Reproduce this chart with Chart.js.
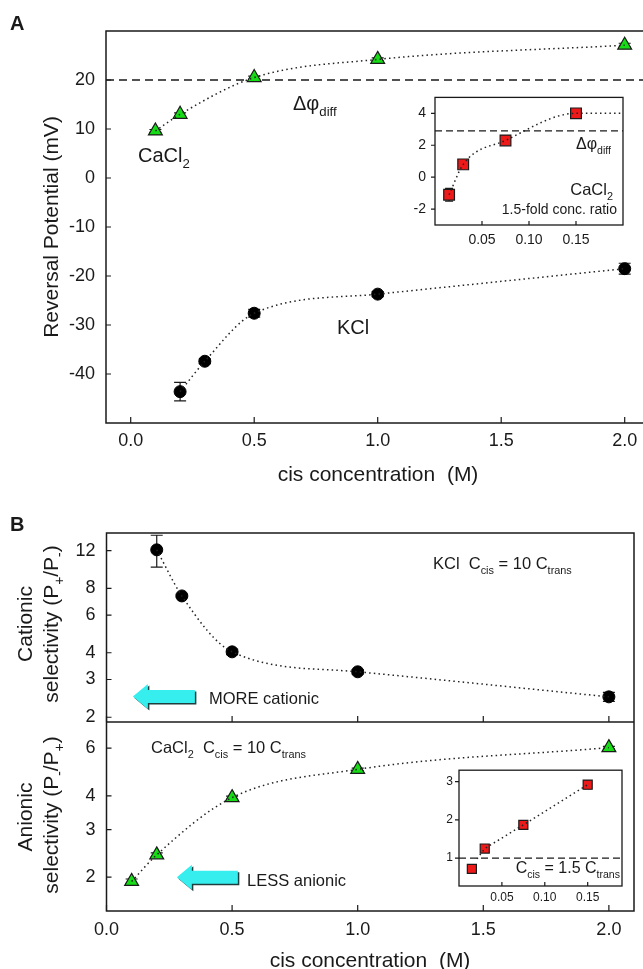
<!DOCTYPE html>
<html>
<head>
<meta charset="utf-8">
<script src="https://cdn.jsdelivr.net/npm/chart.js@4.4.1/dist/chart.umd.min.js"></script>
<style>
  html, body { margin: 0; padding: 0; background: #fff; overflow: hidden; }
  #page { position: relative; width: 643px; height: 969px; overflow: hidden; background: #fff; }
  #page canvas { position: absolute; }
</style>
</head>
<body>
<div id="page">
  <canvas id="cA" width="660" height="500" style="left:0;top:0"></canvas>
  <canvas id="cAin" width="240" height="175" style="left:395px;top:80px"></canvas>
  <canvas id="cB" width="660" height="469" style="left:0;top:500px"></canvas>
  <canvas id="cBin" width="210" height="150" style="left:425px;top:757px"></canvas>
</div>
<script>
// ---------- Panel A: reversal potential vs cis concentration ----------
const caclConcA = [0.1, 0.2, 0.5, 1.0, 2.0];
const caclErev = [9.6, 13.0, 20.5, 24.2, 27.1];
const caclErevErr = [0.3, 0.3, 0.3, 0.3, 0.4];
const kclConcA = [0.2, 0.3, 0.5, 1.0, 2.0];
const kclErev = [-43.6, -37.4, -27.6, -23.7, -18.5];
const kclErevErr = [1.9, 0.5, 0.8, 0.5, 1.1];
const diffPotentialA = 20;
const concTicks = [0, 0.5, 1.0, 1.5, 2.0];
const erevTicks = [-40, -30, -20, -10, 0, 10, 20];

// Panel A inset: CaCl2, 1.5-fold concentration ratio
const insetConcA = [0.015, 0.03, 0.075, 0.15];
const insetErev = [-1.1, 0.8, 2.3, 4.0];
const insetErevErr = [0.4, 0.15, 0.15, 0.15];
const insetFitConcA = [0.015, 0.03, 0.075, 0.15, 0.2];
const insetFitErev = [-1.1, 0.8, 2.3, 4.0, 4.0];
const diffPotentialInset = 2.9;
const insetConcTicks = [0.05, 0.10, 0.15];
const insetErevTicks = [-2, 0, 2, 4];

// ---------- Panel B: permeability ratios ----------
const kclConcB = [0.2, 0.3, 0.5, 1.0, 2.0];
const kclCationic = [12.1, 7.37, 4.04, 3.26, 2.49];
const kclCationicErr = [2.05, 0.12, 0.12, 0.08, 0.12];
const caclConcB = [0.1, 0.2, 0.5, 1.0, 2.0];
const caclAnionic = [1.93, 2.42, 3.94, 5.01, 6.03];
const caclAnionicErr = [0.04, 0.04, 0.05, 0.05, 0.06];
const cationicTicks = [2, 3, 4, 6, 8, 12];
const anionicTicks = [2, 3, 4, 6];

// Panel B inset: C_cis = 1.5 C_trans
const insetConcB = [0.015, 0.03, 0.075, 0.15];
const insetAnionic = [0.72, 1.25, 1.87, 2.92];
const insetAnionicErr = [0.05, 0.05, 0.05, 0.1];
const insetFitConcB = [0.021, 0.03, 0.075, 0.15];
const insetFitAnionic = [0.98, 1.25, 1.87, 2.92];
const insetNoSelectivity = 1;
const insetAnionicTicks = [1, 2, 3];

// ---------- styling ----------
const FONT = '"Liberation Sans", Arial, Helvetica, sans-serif';
const INK = '#1a1a1a';
const GREEN = '#16dc16';
const RED = '#ee1a1a';
const CYAN = '#36eeee';
Chart.defaults.font.family = FONT;
Chart.defaults.color = INK;

function pts(xs, ys) { return xs.map((x, i) => ({ x: x, y: ys[i] })); }
function setFont(ctx, size, bold) { ctx.font = (bold ? 'bold ' : '') + size + 'px ' + FONT; }

// "CaCl_{2}" -> [{t:'CaCl'}, {t:'2', sub:true}]
function parseRich(s) {
  const out = [];
  const re = /_\{([^}]*)\}/g;
  let last = 0, m;
  while ((m = re.exec(s)) !== null) {
    if (m.index > last) out.push({ t: s.slice(last, m.index) });
    out.push({ t: m[1], sub: true });
    last = re.lastIndex;
  }
  if (last < s.length) out.push({ t: s.slice(last) });
  return out;
}

// y is the vertical centre of the capitals
function drawRich(ctx, text, x, y, o) {
  const parts = parseRich(text);
  const size = o.size, subScale = 0.66;
  ctx.save();
  if (o.rotate) { ctx.translate(x, y); ctx.rotate(-Math.PI / 2); x = 0; y = 0; }
  const widths = parts.map(p => { setFont(ctx, p.sub ? size * subScale : size, o.bold); return ctx.measureText(p.t).width; });
  const total = widths.reduce((a, b) => a + b, 0);
  let cx = o.align === 'center' ? x - total / 2 : (o.align === 'right' ? x - total : x);
  const base = y + size * 0.36;
  ctx.fillStyle = INK; ctx.textAlign = 'left'; ctx.textBaseline = 'alphabetic';
  parts.forEach((p, i) => {
    setFont(ctx, p.sub ? size * subScale : size, o.bold);
    ctx.fillText(p.t, cx, base + (p.sub ? size * 0.3 : 0));
    cx += widths[i];
  });
  ctx.restore();
}

function drawLabels(chart, labels, offX, offY) {
  labels.forEach(l => drawRich(chart.ctx, l.text, l.x - offX, l.y - offY, l));
}

function frame(ctx, a, lw) {
  ctx.save(); ctx.strokeStyle = INK; ctx.lineWidth = lw;
  ctx.strokeRect(a.left, a.top, a.right - a.left, a.bottom - a.top);
  ctx.restore();
}

function hLine(ctx, x0, x1, y, dash, lw) {
  ctx.save(); ctx.strokeStyle = INK; ctx.lineWidth = lw; ctx.setLineDash(dash);
  ctx.beginPath(); ctx.moveTo(x0, y); ctx.lineTo(x1, y); ctx.stroke(); ctx.restore();
}

// tick marks on x: from edgeY in direction dir (-1 up, +1 down)
function xMarks(ctx, scale, edgeY, len, dir) {
  ctx.save(); ctx.strokeStyle = INK; ctx.lineWidth = 1.2; ctx.beginPath();
  scale.ticks.forEach(t => { const p = scale.getPixelForValue(t.value); ctx.moveTo(p, edgeY); ctx.lineTo(p, edgeY + dir * len); });
  ctx.stroke(); ctx.restore();
}
function yMarks(ctx, scale, edgeX, len, dir) {
  ctx.save(); ctx.strokeStyle = INK; ctx.lineWidth = 1.2; ctx.beginPath();
  scale.ticks.forEach(t => { const p = scale.getPixelForValue(t.value); ctx.moveTo(edgeX, p); ctx.lineTo(edgeX + dir * len, p); });
  ctx.stroke(); ctx.restore();
}

// left-pointing block arrow with a dark edge
function arrowLeft(ctx, tipX, cy, len, headLen, headHalf, shaftHalf) {
  const path = (dx, dy) => {
    ctx.beginPath();
    ctx.moveTo(tipX + dx, cy + dy);
    ctx.lineTo(tipX + headLen + dx, cy - headHalf + dy);
    ctx.lineTo(tipX + headLen + dx, cy - shaftHalf + dy);
    ctx.lineTo(tipX + len + dx, cy - shaftHalf + dy);
    ctx.lineTo(tipX + len + dx, cy + shaftHalf + dy);
    ctx.lineTo(tipX + headLen + dx, cy + shaftHalf + dy);
    ctx.lineTo(tipX + headLen + dx, cy + headHalf + dy);
    ctx.closePath();
  };
  ctx.save();
  path(1.5, 1.5); ctx.fillStyle = '#1f3f3f'; ctx.fill();
  path(0, 0); ctx.fillStyle = CYAN; ctx.fill();
  ctx.restore();
}

// vertical error bars, drawn just before their markers
const errorBars = {
  id: 'errorBars',
  beforeDatasetDraw(chart, args) {
    const ds = chart.data.datasets[args.index];
    if (!ds.errorBars) return;
    const ys = chart.scales[args.meta.yAxisID];
    const ctx = chart.ctx;
    ctx.save(); ctx.strokeStyle = INK; ctx.lineWidth = 1.2; ctx.beginPath();
    args.meta.data.forEach((pt, i) => {
      const v = ds.data[i].y, e = ds.errorBars[i];
      if (!e) return;
      const top = ys.getPixelForValue(v + e), bot = ys.getPixelForValue(v - e);
      const cap = ds.capHalf || 6;
      ctx.moveTo(pt.x, top); ctx.lineTo(pt.x, bot);
      ctx.moveTo(pt.x - cap, top); ctx.lineTo(pt.x + cap, top);
      ctx.moveTo(pt.x - cap, bot); ctx.lineTo(pt.x + cap, bot);
    });
    ctx.stroke(); ctx.restore();
  }
};
Chart.register(errorBars);

function fitLine(xs, ys, extra) {
  return Object.assign({
    data: pts(xs, ys), showLine: true, borderColor: '#222', borderWidth: 1.5,
    borderDash: [1.5, 3.2], pointRadius: 0, cubicInterpolationMode: 'monotone', fill: false
  }, extra || {});
}

function fixedTicks(values) { return s => { s.ticks = values.map(v => ({ value: v })); }; }

const common = {
  responsive: false, animation: false, events: [],
  plugins: { legend: { display: false }, tooltip: { enabled: false } }
};
const noGrid = { display: false, drawTicks: false };

// ---------- Panel A ----------
const labelsA = [
  { text: 'A', x: 10, y: 23, size: 20, bold: true },
  { text: 'Reversal Potential (mV)', x: 50, y: 227, size: 21, rotate: true, align: 'center' },
  { text: 'cis concentration  (M)', x: 378, y: 473, size: 21, align: 'center' },
  { text: 'CaCl_{2}', x: 138, y: 155, size: 20 },
  { text: 'Δφ_{diff}', x: 293, y: 103, size: 20 },
  { text: 'KCl', x: 337, y: 327, size: 20 }
];

new Chart(document.getElementById('cA'), {
  type: 'scatter',
  data: {
    datasets: [
      fitLine(caclConcA, caclErev),
      fitLine(kclConcA, kclErev),
      { label: 'CaCl2', data: pts(caclConcA, caclErev), pointStyle: 'triangle', pointRadius: 8,
        backgroundColor: GREEN, borderColor: INK, borderWidth: 1.2, errorBars: caclErevErr },
      { label: 'KCl', data: pts(kclConcA, kclErev), pointStyle: 'circle', pointRadius: 6,
        backgroundColor: '#000', borderColor: '#000', borderWidth: 1, errorBars: kclErevErr }
    ]
  },
  options: Object.assign({}, common, {
    layout: { padding: { top: 31, right: 10.6, left: 0, bottom: 0 } },
    scales: {
      x: { type: 'linear', min: -0.1, max: 2.1, afterBuildTicks: fixedTicks(concTicks),
           afterFit: s => { s.height = 77; }, grid: noGrid, border: { display: false },
           ticks: { font: { size: 18 }, color: INK, padding: 7, maxRotation: 0, autoSkip: false,
                    callback: v => Number(v).toFixed(1) } },
      y: { type: 'linear', min: -50, max: 30, afterBuildTicks: fixedTicks(erevTicks),
           afterFit: s => { s.width = 106; }, grid: noGrid, border: { display: false },
           ticks: { font: { size: 18 }, color: INK, padding: 11, autoSkip: false, callback: v => String(v) } }
    }
  }),
  plugins: [{
    id: 'panelA',
    beforeDatasetsDraw(chart) {
      const a = chart.chartArea;
      hLine(chart.ctx, a.left, a.right, chart.scales.y.getPixelForValue(diffPotentialA), [8, 5], 1.5);
    },
    afterDatasetsDraw(chart) {
      const a = chart.chartArea, ctx = chart.ctx;
      frame(ctx, a, 1.5);
      xMarks(ctx, chart.scales.x, a.bottom, 6, -1);
      yMarks(ctx, chart.scales.y, a.left, 5, 1);
    },
    afterDraw(chart) { drawLabels(chart, labelsA, 0, 0); }
  }]
});

// ---------- Panel A inset ----------
const labelsAin = [
  { text: 'Δφ_{diff}', x: 611, y: 143, size: 16, align: 'right' },
  { text: 'CaCl_{2}', x: 613, y: 189, size: 16.5, align: 'right' },
  { text: '1.5-fold conc. ratio', x: 617, y: 209, size: 14, align: 'right' }
];

new Chart(document.getElementById('cAin'), {
  type: 'scatter',
  data: {
    datasets: [
      fitLine(insetFitConcA, insetFitErev),
      { label: 'CaCl2 1.5-fold', data: pts(insetConcA, insetErev), pointStyle: 'rect', pointRadius: 7.6,
        backgroundColor: RED, borderColor: INK, borderWidth: 1.2, errorBars: insetErevErr, capHalf: 4 }
    ]
  },
  options: Object.assign({}, common, {
    layout: { padding: { top: 10, right: 12, left: 0, bottom: 0 } },
    scales: {
      x: { type: 'linear', min: 0, max: 0.2, afterBuildTicks: fixedTicks(insetConcTicks),
           afterFit: s => { s.height = 30; }, grid: noGrid, border: { display: false },
           ticks: { font: { size: 14 }, color: INK, padding: 6.6, maxRotation: 0, autoSkip: false,
                    callback: v => Number(v).toFixed(2) } },
      y: { type: 'linear', min: -3, max: 5, afterBuildTicks: fixedTicks(insetErevTicks),
           afterFit: s => { s.width = 40; }, grid: noGrid, border: { display: false },
           ticks: { font: { size: 14 }, color: INK, padding: 9, autoSkip: false, callback: v => String(v) } }
    }
  }),
  plugins: [{
    id: 'insetA',
    beforeDatasetsDraw(chart) {
      const a = chart.chartArea, ctx = chart.ctx;
      ctx.save(); ctx.fillStyle = '#fff'; ctx.fillRect(a.left, a.top, a.right - a.left, a.bottom - a.top); ctx.restore();
      hLine(ctx, a.left, a.right, chart.scales.y.getPixelForValue(diffPotentialInset), [7, 4], 1.3);
    },
    afterDatasetsDraw(chart) {
      const a = chart.chartArea, ctx = chart.ctx;
      frame(ctx, a, 1.3);
      xMarks(ctx, chart.scales.x, a.bottom, 4, -1);
      yMarks(ctx, chart.scales.y, a.left, 4, -1);
    },
    afterDraw(chart) { drawLabels(chart, labelsAin, 395, 80); }
  }]
});

// ---------- Panel B (stacked anionic / cationic axes) ----------
const labelsB = [
  { text: 'B', x: 10, y: 524, size: 20, bold: true },
  { text: 'Cationic', x: 24, y: 624, size: 21, rotate: true, align: 'center' },
  { text: 'selectivity (P_{+}/P_{-})', x: 50, y: 624, size: 21, rotate: true, align: 'center' },
  { text: 'Anionic', x: 24, y: 817, size: 21, rotate: true, align: 'center' },
  { text: 'selectivity (P_{-}/P_{+})', x: 50, y: 815, size: 21, rotate: true, align: 'center' },
  { text: 'cis concentration  (M)', x: 370, y: 959, size: 21, align: 'center' },
  { text: 'KCl  C_{cis} = 10 C_{trans}', x: 433, y: 563, size: 16.5 },
  { text: 'MORE cationic', x: 209, y: 698, size: 16.5 },
  { text: 'CaCl_{2}  C_{cis} = 10 C_{trans}', x: 151, y: 747, size: 16.5 },
  { text: 'LESS anionic', x: 247, y: 880, size: 16.5 }
];

const selTicks = { font: { size: 18 }, color: INK, padding: 11, autoSkip: false, callback: v => String(v) };

new Chart(document.getElementById('cB'), {
  type: 'scatter',
  data: {
    datasets: [
      fitLine(kclConcB, kclCationic, { yAxisID: 'yCat' }),
      fitLine(caclConcB, caclAnionic, { yAxisID: 'yAn' }),
      { label: 'KCl', yAxisID: 'yCat', data: pts(kclConcB, kclCationic), pointStyle: 'circle', pointRadius: 6,
        backgroundColor: '#000', borderColor: '#000', borderWidth: 1, errorBars: kclCationicErr },
      { label: 'CaCl2', yAxisID: 'yAn', data: pts(caclConcB, caclAnionic), pointStyle: 'triangle', pointRadius: 8,
        backgroundColor: GREEN, borderColor: INK, borderWidth: 1.2, errorBars: caclAnionicErr }
    ]
  },
  options: Object.assign({}, common, {
    layout: { padding: { top: 33, right: 26, left: 0, bottom: 0 } },
    scales: {
      x: { type: 'linear', min: 0, max: 2.1, afterBuildTicks: fixedTicks(concTicks),
           afterFit: s => { s.height = 58; }, grid: noGrid, border: { display: false },
           ticks: { font: { size: 18 }, color: INK, padding: 8, maxRotation: 0, autoSkip: false,
                    callback: v => Number(v).toFixed(1) } },
      // the stack is laid out bottom-up: anionic below, cationic above
      yAn: { type: 'logarithmic', position: 'left', stack: 'selectivity', stackWeight: 1,
             min: 1.5, max: 7.5, afterBuildTicks: fixedTicks(anionicTicks),
             afterFit: s => { s.width = 106.5; }, grid: noGrid, border: { display: false }, ticks: selTicks },
      yCat: { type: 'logarithmic', position: 'left', stack: 'selectivity', stackWeight: 1,
              min: 1.9, max: 14.5, afterBuildTicks: fixedTicks(cationicTicks),
              afterFit: s => { s.width = 106.5; }, grid: noGrid, border: { display: false }, ticks: selTicks }
    }
  }),
  plugins: [{
    id: 'panelB',
    afterDatasetsDraw(chart) {
      const a = chart.chartArea, ctx = chart.ctx, s = chart.scales;
      frame(ctx, a, 1.5);
      const sep = Math.max(s.yCat.top, s.yAn.top);
      hLine(ctx, a.left, a.right, sep, [], 1.5);
      xMarks(ctx, s.x, sep, 6, -1);
      xMarks(ctx, s.x, a.bottom, 6, -1);
      yMarks(ctx, s.yCat, a.left, 5, 1);
      yMarks(ctx, s.yAn, a.left, 5, 1);
      // direction arrows
      arrowLeft(ctx, s.x.getPixelForValue(0.105), s.yCat.getPixelForValue(2.5), 62, 15, 12.5, 6.5);
      arrowLeft(ctx, s.x.getPixelForValue(0.28), s.yAn.getPixelForValue(2.0), 61, 15, 12.5, 6.5);
    },
    afterDraw(chart) { drawLabels(chart, labelsB, 0, 500); }
  }]
});

// ---------- Panel B inset ----------
const labelsBin = [
  { text: 'C_{cis} = 1.5 C_{trans}', x: 620, y: 867, size: 16, align: 'right' }
];

new Chart(document.getElementById('cBin'), {
  type: 'scatter',
  data: {
    datasets: [
      fitLine(insetFitConcB, insetFitAnionic, { cubicInterpolationMode: 'default', tension: 0 }),
      { label: 'CaCl2 1.5-fold', data: pts(insetConcB, insetAnionic), pointStyle: 'rect', pointRadius: 6.4,
        backgroundColor: RED, borderColor: INK, borderWidth: 1.2, errorBars: insetAnionicErr, capHalf: 3.5 }
    ]
  },
  options: Object.assign({}, common, {
    layout: { padding: { top: 10, right: 13, left: 0, bottom: 0 } },
    scales: {
      x: { type: 'linear', min: 0, max: 0.19, afterBuildTicks: fixedTicks(insetConcTicks),
           afterFit: s => { s.height = 21; }, grid: noGrid, border: { display: false },
           ticks: { font: { size: 12 }, color: INK, padding: 4, maxRotation: 0, autoSkip: false,
                    callback: v => Number(v).toFixed(2) } },
      y: { type: 'linear', min: 0.27, max: 3.3, afterBuildTicks: fixedTicks(insetAnionicTicks),
           afterFit: s => { s.width = 34; }, grid: noGrid, border: { display: false },
           ticks: { font: { size: 12 }, color: INK, padding: 6, autoSkip: false, callback: v => String(v) } }
    }
  }),
  plugins: [{
    id: 'insetB',
    beforeDatasetsDraw(chart) {
      const a = chart.chartArea, ctx = chart.ctx;
      ctx.save(); ctx.fillStyle = '#fff'; ctx.fillRect(a.left, a.top, a.right - a.left, a.bottom - a.top); ctx.restore();
      hLine(ctx, a.left, a.right, chart.scales.y.getPixelForValue(insetNoSelectivity), [7, 4], 1.3);
    },
    afterDatasetsDraw(chart) {
      const a = chart.chartArea, ctx = chart.ctx;
      frame(ctx, a, 1.3);
      xMarks(ctx, chart.scales.x, a.bottom, 4, -1);
      yMarks(ctx, chart.scales.y, a.left, 4, -1);
    },
    afterDraw(chart) { drawLabels(chart, labelsBin, 425, 757); }
  }]
});
</script>
</body>
</html>
